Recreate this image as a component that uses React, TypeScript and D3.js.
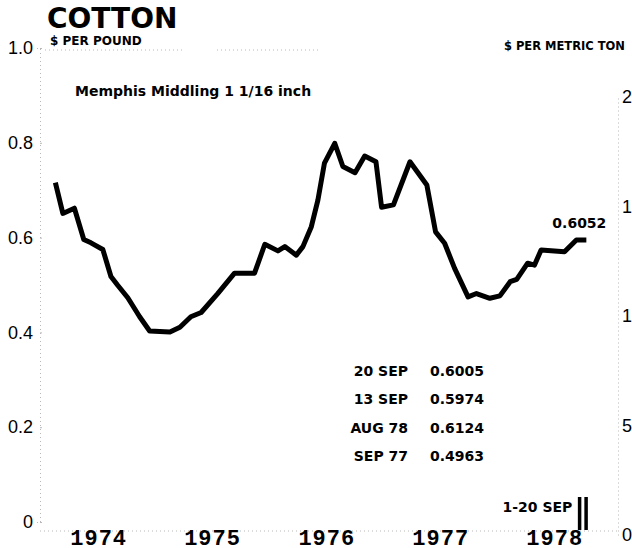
import React, { useEffect, useRef } from "react";
import * as d3 from "d3";

// Memphis Middling 1 1/16 inch, $ per pound
const dates = [
  "1974-01-15", "1974-02-08", "1974-03-17", "1974-04-16", "1974-05-09", "1974-06-16",
  "1974-07-12", "1974-08-02", "1974-09-04", "1974-10-12", "1974-11-13", "1975-01-17",
  "1975-02-18", "1975-03-25", "1975-04-27", "1975-06-19", "1975-08-12", "1975-10-15",
  "1975-11-17", "1975-12-29", "1976-01-20", "1976-02-26", "1976-03-18", "1976-04-14",
  "1976-05-05", "1976-05-26", "1976-06-28", "1976-07-24", "1976-09-01", "1976-10-02",
  "1976-11-07", "1976-11-25", "1977-01-02", "1977-02-24", "1977-04-19", "1977-05-17",
  "1977-06-15", "1977-07-17", "1977-08-29", "1977-09-25", "1977-11-07", "1977-12-09",
  "1978-01-11", "1978-02-01", "1978-03-08", "1978-03-30", "1978-04-20", "1978-07-04",
  "1978-08-11", "1978-09-12",
];
const prices = [
  0.716, 0.651, 0.662, 0.596, 0.589, 0.575,
  0.518, 0.5, 0.473, 0.433, 0.403, 0.401,
  0.411, 0.433, 0.442, 0.482, 0.525, 0.525,
  0.586, 0.572, 0.581, 0.563, 0.581, 0.623,
  0.679, 0.757, 0.799, 0.75, 0.737, 0.772,
  0.76, 0.664, 0.669, 0.76, 0.711, 0.612,
  0.588, 0.535, 0.475, 0.482, 0.472, 0.477,
  0.507, 0.512, 0.546, 0.542, 0.574, 0.57,
  0.595, 0.595,
];
const leftTicks = [0, 0.2, 0.4, 0.6, 0.8, 1.0];
const rightTicks = [0, 500, 1000, 1500, 2000];
const years = [1974, 1975, 1976, 1977, 1978];
const tableLabels = ["20 SEP", "13 SEP", "AUG 78", "SEP 77"];
const tableValues = ["0.6005", "0.5974", "0.6124", "0.4963"];
const lastLabel = "0.6052";

const W = 632;
const H = 548;

export default function App() {
  const svgRef = useRef<SVGSVGElement>(null);

  useEffect(() => {
    const svg = d3.select(svgRef.current);
    svg.selectAll("*").remove();

    const parse = d3.timeParse("%Y-%m-%d");
    const data = dates.map((d, i) => ({ date: parse(d) as Date, value: prices[i] }));

    const x = d3.scaleTime()
      .domain([new Date(1974, 0, 1), new Date(1979, 0, 1)])
      .range([51, 621]);
    const y = d3.scaleLinear().domain([0, 1]).range([522, 48]);
    const yRight = d3.scaleLinear().domain([0, 2000]).range([535, 97]);

    const faint = "#b8b8b8";

    // scanned frame lines
    const frame = svg.append("g")
      .attr("stroke", faint)
      .attr("stroke-width", 1)
      .attr("stroke-dasharray", "1,3")
      .attr("fill", "none");
    frame.append("line").attr("x1", 45).attr("x2", 185).attr("y1", 50).attr("y2", 50);
    frame.append("line").attr("x1", 217).attr("x2", 318).attr("y1", 50).attr("y2", 50);
    frame.append("line").attr("x1", 40).attr("x2", 618).attr("y1", 531).attr("y2", 531);

    // left axis
    const left = svg.append("g")
      .attr("transform", "translate(40,0)")
      .call(
        d3.axisLeft(y)
          .tickValues(leftTicks)
          .tickFormat((d) => (d === 0 ? "0" : d3.format(".1f")(d as number)))
          .tickSize(3)
          .tickPadding(4)
      );
    left.select(".domain").attr("stroke", faint).attr("stroke-dasharray", "1,3");
    left.selectAll(".tick line").attr("stroke", faint).attr("x2", 2);
    left.selectAll("text")
      .attr("font-family", "'Liberation Sans', Arial, sans-serif")
      .attr("font-size", 18)
      .attr("fill", "#000");

    // right axis ($ per metric ton)
    const right = svg.append("g")
      .attr("transform", "translate(618,0)")
      .call(d3.axisRight(yRight).tickValues(rightTicks).tickSize(0).tickPadding(4));
    right.select(".domain").attr("stroke", faint).attr("stroke-dasharray", "1,3");
    right.selectAll("text")
      .attr("font-family", "'Liberation Sans', Arial, sans-serif")
      .attr("font-size", 18)
      .attr("fill", "#000");

    // years
    const bottom = svg.append("g")
      .attr("transform", "translate(0,528)")
      .call(
        d3.axisBottom(x)
          .tickValues(years.map((yy) => new Date(yy, 5, 1)))
          .tickFormat(d3.timeFormat("%Y") as any)
          .tickSize(0)
          .tickPadding(1)
      );
    bottom.select(".domain").remove();
    bottom.selectAll("text")
      .attr("font-family", "'Liberation Mono', 'Courier New', monospace")
      .attr("font-weight", "bold")
      .attr("font-size", 22)
      .attr("letter-spacing", 1)
      .attr("fill", "#000");

    // price line
    const line = d3.line<{ date: Date; value: number }>()
      .x((d) => x(d.date))
      .y((d) => y(d.value));
    svg.append("path")
      .datum(data)
      .attr("d", line)
      .attr("fill", "none")
      .attr("stroke", "#000")
      .attr("stroke-width", 5)
      .attr("stroke-linejoin", "round");

    const last = data[data.length - 1];
    const lx = x(last.date);
    const ly = y(last.value);

    const bold = "'DejaVu Sans', Verdana, sans-serif";

    svg.append("text")
      .attr("x", lx - 7)
      .attr("y", ly - 12)
      .attr("text-anchor", "middle")
      .attr("font-family", bold)
      .attr("font-weight", "bold")
      .attr("font-size", 14)
      .text(lastLabel);

    // 1-20 SEP marker
    svg.append("text")
      .attr("x", lx - 14)
      .attr("y", 512)
      .attr("text-anchor", "end")
      .attr("font-family", bold)
      .attr("font-weight", "bold")
      .attr("font-size", 14)
      .text("1-20 SEP");
    [lx - 8.5, lx - 2].forEach((bx) => {
      svg.append("rect")
        .attr("x", bx)
        .attr("y", 497)
        .attr("width", 3.5)
        .attr("height", 33)
        .attr("fill", "#000");
    });

    // table of recent prices
    const rowY = d3.scalePoint<string>().domain(tableLabels).range([376, 461]);
    const table = svg.append("g")
      .attr("font-family", bold)
      .attr("font-weight", "bold")
      .attr("font-size", 14)
      .attr("fill", "#000");
    table.selectAll("text.lab")
      .data(tableLabels)
      .join("text")
      .attr("class", "lab")
      .attr("x", 408)
      .attr("y", (d) => rowY(d) as number)
      .attr("text-anchor", "end")
      .text((d) => d);
    table.selectAll("text.val")
      .data(tableValues)
      .join("text")
      .attr("class", "val")
      .attr("x", 430)
      .attr("y", (_d, i) => rowY(tableLabels[i]) as number)
      .text((d) => d);

    // titles
    svg.append("text")
      .attr("x", 47)
      .attr("y", 28)
      .attr("font-family", bold)
      .attr("font-weight", "bold")
      .attr("font-size", 28)
      .text("COTTON");
    svg.append("text")
      .attr("x", 50)
      .attr("y", 45)
      .attr("font-family", bold)
      .attr("font-weight", "bold")
      .attr("font-size", 12)
      .text("$ PER POUND");
    svg.append("text")
      .attr("x", 75)
      .attr("y", 96)
      .attr("font-family", bold)
      .attr("font-weight", "bold")
      .attr("font-size", 14)
      .text("Memphis Middling 1 1/16 inch");
    svg.append("text")
      .attr("x", 625)
      .attr("y", 50)
      .attr("text-anchor", "end")
      .attr("font-family", bold)
      .attr("font-weight", "bold")
      .attr("font-size", 11.5)
      .text("$ PER METRIC TON");
  }, []);

  return (
    <svg
      ref={svgRef}
      width={W}
      height={H}
      style={{ position: "absolute", left: 0, top: 0, background: "#fff" }}
    />
  );
}
